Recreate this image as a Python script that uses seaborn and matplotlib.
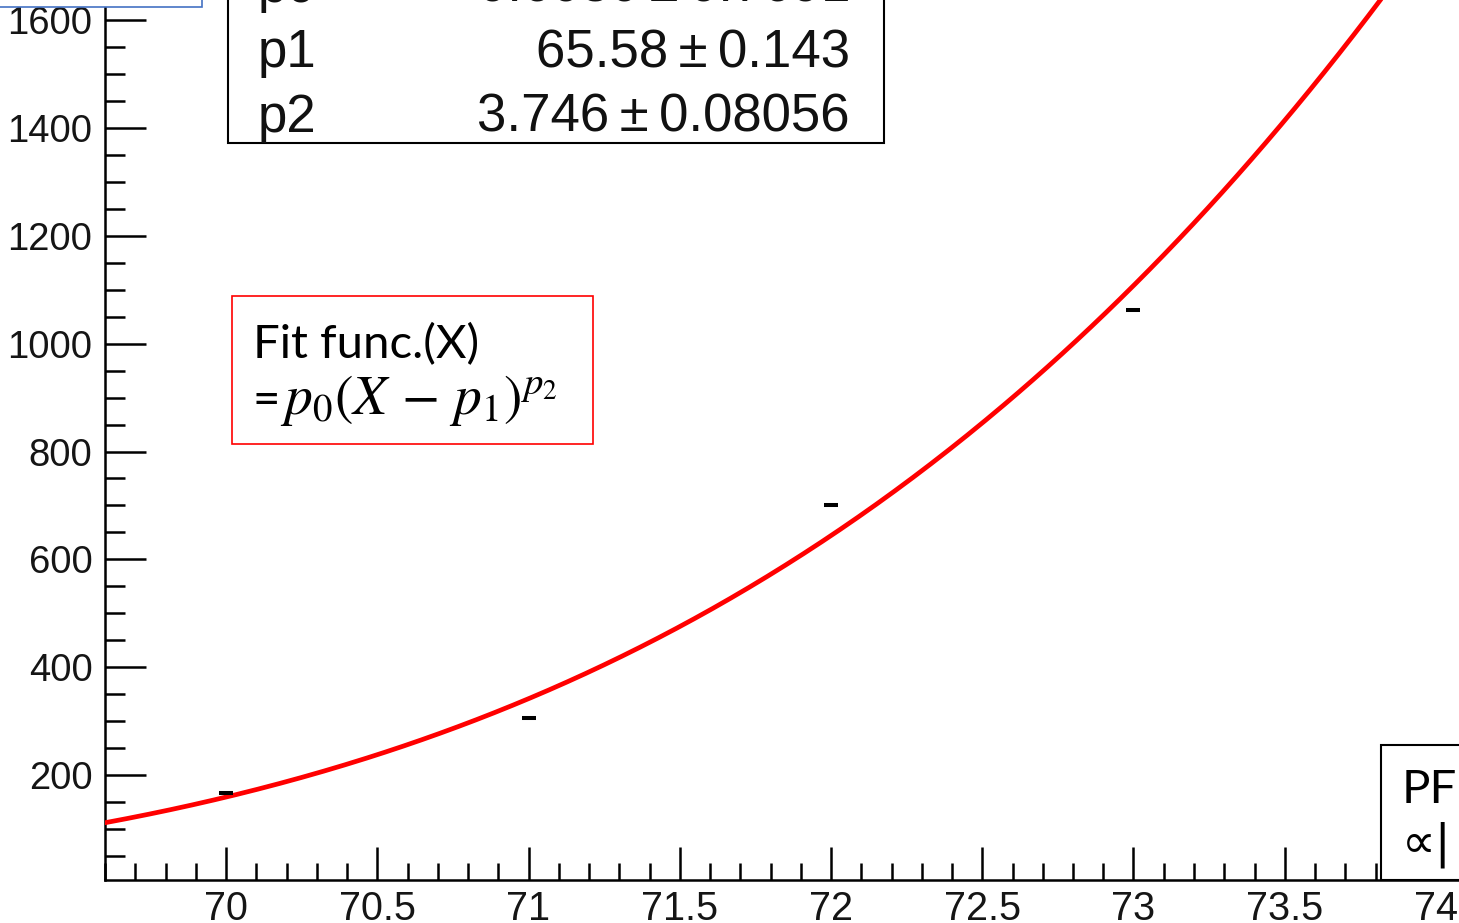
import numpy as np
import pandas as pd
import seaborn as sns
import matplotlib
matplotlib.use("Agg")
import matplotlib.pyplot as plt
from matplotlib.patches import Rectangle
from matplotlib.ticker import MultipleLocator

# Measured points
x_points = [70.0, 71.0, 72.0, 73.0]
y_points = [167.0, 306.0, 701.0, 1062.0]

# Fit parameters of p0*(X - p1)^p2
p0, p0_err = 0.6080, 0.7691
p1, p1_err = 65.58, 0.143
p2, p2_err = 3.746, 0.08056

x_range = [69.6, 74.4]
y_range = [5.3, 1700.0]
y_ticks = [200, 400, 600, 800, 1000, 1200, 1400, 1600]
x_ticks = [70, 70.5, 71, 71.5, 72, 72.5, 73, 73.5, 74]
x_ticklabels = ["70", "70.5", "71", "71.5", "72", "72.5", "73", "73.5", "74"]

W, H = 1459, 923
DPI = 100

sns.set_theme(style="white")
plt.rcParams["font.family"] = ["Liberation Sans", "DejaVu Sans"]
plt.rcParams["mathtext.fontset"] = "stix"

fig = plt.figure(figsize=(W / DPI, H / DPI), dpi=DPI)
fig.patch.set_facecolor("white")


def fx(px):
    return px / W


def fy(py):
    return 1 - py / H


ax = fig.add_axes([fx(105), fy(880), 1452 / W, 913.7 / H])
ax.set_facecolor("white")

xs = np.linspace(x_range[0], x_range[1], 400)
curve = pd.DataFrame({"X": xs, "Y": p0 * (xs - p1) ** p2})
sns.lineplot(data=curve, x="X", y="Y", color="#ff0000", linewidth=3.4, ax=ax,
             zorder=3)

pts = pd.DataFrame({"X": x_points, "Y": y_points})
sns.scatterplot(data=pts, x="X", y="Y", marker="_", s=90, linewidth=2.9,
                color="black", ax=ax, zorder=4)

ax.set_xlim(*x_range)
ax.set_ylim(*y_range)
ax.set_xlabel("")
ax.set_ylabel("")
for side in ["top", "right"]:
    ax.spines[side].set_visible(False)
for side in ["left", "bottom"]:
    ax.spines[side].set_color("black")
    ax.spines[side].set_linewidth(1.8)

ax.set_yticks(y_ticks)
ax.set_yticklabels([str(v) for v in y_ticks])
ax.yaxis.set_minor_locator(MultipleLocator(50))
ax.set_xticks(x_ticks)
ax.set_xticklabels(x_ticklabels)
ax.xaxis.set_minor_locator(MultipleLocator(0.1))

ax.tick_params(axis="y", which="major", direction="in", length=29.5, width=1.8,
               color="black", labelsize=27.5, pad=9, left=True, labelcolor="#151515")
ax.tick_params(axis="y", which="minor", direction="in", length=14.4, width=1.8,
               color="black", left=True)
ax.tick_params(axis="x", which="major", direction="in", length=23.8, width=1.8,
               color="black", labelsize=28.5, pad=7, bottom=True, labelcolor="#151515")
ax.tick_params(axis="x", which="minor", direction="in", length=12.2, width=1.8,
               color="black", bottom=True)

# Parameter box
fig.patches.append(Rectangle((fx(228), fy(143)), (884 - 228) / W, 200 / H,
                             transform=fig.transFigure, facecolor="white",
                             edgecolor="black", linewidth=1.5, zorder=10))
rows = [("p0", f"{p0:.4f}\u2009\u00b1\u2009{p0_err:.4f}", 2.0),
        ("p1", f"{p1:.2f}\u2009\u00b1\u2009{p1_err:.3f}", 67),
        ("p2", f"{p2:.3f}\u2009\u00b1\u2009{p2_err:.5f}", 132)]
for name, val, base in rows:
    fig.text(fx(258), fy(base), name, fontsize=38, ha="left", va="baseline",
             color="#111111", zorder=11)
    fig.text(fx(850), fy(base), val, fontsize=38, ha="right", va="baseline",
             color="#111111", zorder=11)

# Fit function note
fig.patches.append(Rectangle((fx(232), fy(444)), (593 - 232) / W, (444 - 296) / H,
                             transform=fig.transFigure, facecolor="white",
                             edgecolor="#ff0000", linewidth=1.2, zorder=10))
fig.text(fx(253), fy(358), "Fit func.(X)", fontsize=34, family=["Lato", "DejaVu Sans"],
         ha="left", va="baseline", color="black", zorder=11)
fig.text(fx(253), fy(414), "=", fontsize=34, family=["Lato", "DejaVu Sans"],
         ha="left", va="baseline", color="black", zorder=11)
fig.text(fx(280), fy(414), "$p_0(X\\,-\\,p_1)^{p_2}$", fontsize=40,
         ha="left", va="baseline", color="black", zorder=11)

# Side note box at lower right
fig.patches.append(Rectangle((fx(1381), fy(880)), 200 / W, (880 - 745) / H,
                             transform=fig.transFigure, facecolor="white",
                             edgecolor="black", linewidth=1.5, zorder=10))
fig.text(fx(1402), fy(803), "PFN", fontsize=34, family=["Lato", "DejaVu Sans"],
         ha="left", va="baseline", color="black", zorder=11)
fig.text(fx(1402), fy(857), "\u221d|", fontsize=34, family=["DejaVu Sans"],
         ha="left", va="baseline", color="black", zorder=11)

# Outline at upper left
fig.patches.append(Rectangle((fx(-10), fy(7)), 212 / W, 30 / H,
                             transform=fig.transFigure, facecolor="white",
                             edgecolor="#4472c4", linewidth=1.2, zorder=10))

fig.savefig("out.png", dpi=DPI)
